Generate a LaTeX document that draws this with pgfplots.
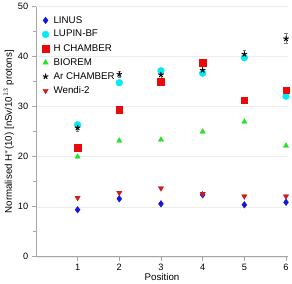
\documentclass[border=0pt]{standalone}
\usepackage{fontspec}
\setmainfont{Liberation Sans}
\usepackage{pgfplots}
\pgfplotsset{compat=1.18}
\definecolor{cblue}{RGB}{20,20,220}
\definecolor{ccyan}{RGB}{0,235,245}
\definecolor{cred}{RGB}{235,10,10}
\definecolor{cgreen}{RGB}{40,225,40}
\definecolor{cwendi}{RGB}{200,30,30}
\begin{document}
\begin{tikzpicture}
\begin{axis}[
  scale only axis, width=246pt, height=244pt,
  xmin=0, xmax=6.05, ymin=0, ymax=50,
  axis x line*=bottom, axis y line*=left,
  axis line style={gray!70, line width=0.6pt},
  xtick={1,2,3,4,5,6}, ytick={0,10,20,30,40,50},
  minor y tick num=1,
  tick align=outside, major tick length=4pt, minor tick length=2.5pt,
  tick style={gray!70, line width=0.6pt},
  ymajorgrids, grid style={gray!15, line width=0.5pt},
  tick label style={font=\fontsize{9}{10}\selectfont},
  /pgf/number format/assume math mode=true,
  xlabel={Position}, ylabel={Normalised H$^{*}$(10) [nSv/10$^{13}$ protons]},
  label style={font=\fontsize{9.5}{10}\selectfont},
  xlabel style={yshift=5pt},
  ylabel style={yshift=-3pt},
  legend style={at={(0.02,0.975)}, anchor=north west, draw=none, fill=none, font=\fontsize{9.5}{10}\selectfont, row sep=1.6pt, column sep=2.5pt, inner sep=1pt},
  legend cell align=left,
  clip=false,
]
\addplot[only marks, mark=diamond*, mark size=3.2pt, color=cblue] coordinates {(1,9.4)(2,11.6)(3,10.6)(4,12.4)(5,10.4)(6,10.9)};
\addlegendentry{LINUS}
\addplot[only marks, mark=*, mark size=3.3pt, color=ccyan] coordinates {(1,26.4)(2,34.8)(3,37.2)(4,36.7)(5,39.8)(6,32.1)};
\addlegendentry{LUPIN-BF}
\addplot[only marks, mark=square*, mark size=3.2pt, color=cred] coordinates {(1,21.8)(2,29.4)(3,35.0)(4,38.8)(5,31.3)(6,33.3)};
\addlegendentry{H CHAMBER}
\addplot[only marks, mark=triangle*, mark size=3pt, color=cgreen] coordinates {(1,20.0)(2,23.2)(3,23.4)(4,25.0)(5,27.0)(6,22.2)};
\addlegendentry{BIOREM}
\addplot[only marks, mark=star, mark size=2.8pt, color=black, mark options={line width=1pt},
  error bars/.cd, y dir=both, y explicit, error bar style={gray, line width=0.4pt}, error mark options={rotate=90, mark size=1.5pt, gray}]
  coordinates {(1,25.8) +- (0,0.6) (2,36.5) +- (0,0.6) (3,36.4) +- (0,0.6) (4,37.3) +- (0,0.8) (5,40.5) +- (0,0.8) (6,43.6) +- (0,1.0)};
\addlegendentry{Ar CHAMBER}
\addplot[only marks, mark=triangle*, mark options={rotate=180}, mark size=3pt, color=cwendi] coordinates {(1,11.8)(2,12.8)(3,13.7)(4,12.6)(5,12.1)(6,12.1)};
\addlegendentry{Wendi-2}
\end{axis}
\end{tikzpicture}
\end{document}
